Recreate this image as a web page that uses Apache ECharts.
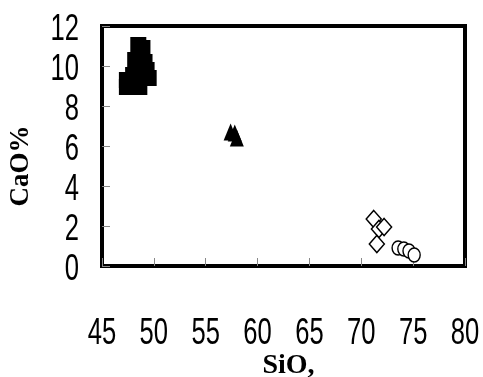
<!DOCTYPE html>
<html><head><meta charset="utf-8">
<script src="https://cdn.jsdelivr.net/npm/echarts@6/dist/echarts.min.js"></script>
<style>html,body{margin:0;padding:0;background:#fff}#c{width:483px;height:377px}</style>
</head><body><div id="c"></div>
<script>
var xTicks = [45, 50, 55, 60, 65, 70, 75, 80];
var yTicks = [0, 2, 4, 6, 8, 10, 12];
var squares = [[48.5, 11.05], [48.9, 10.9], [48.2, 10.3], [49.1, 10.2], [49.3, 9.8], [48.0, 9.55], [49.5, 9.4], [47.4, 9.3], [47.4, 8.95], [48.6, 8.95]];
var triangles = [[57.4, 6.7], [57.8, 6.65], [58.0, 6.4]];
var diamonds = [[71.2, 2.35], [71.7, 1.85], [72.2, 1.95], [71.5, 1.1]];
var circles = [[73.55, 0.9], [74.1, 0.85], [74.6, 0.75], [75.1, 0.55]];

var chart = echarts.init(document.getElementById('c'));
var numFont = '"Liberation Sans",Arial,sans-serif';
var serif = '"Liberation Serif","DejaVu Serif",serif';
chart.setOption({
  animation: false,
  grid: {left: 102, right: 18, top: 26, bottom: 111, show: true, borderColor: '#000', borderWidth: 4, backgroundColor: '#fff', outerBoundsMode: 'none', containLabel: false},
  xAxis: {
    type: 'value', min: 45, max: 80, interval: 5,
    name: 'SiO,', nameLocation: 'middle', nameGap: 86,
    nameTextStyle: {fontFamily: serif, fontWeight: 'bold', fontSize: 28, color: '#000', padding: [0, 0, 0, 10]},
    axisLine: {show: true, lineStyle: {color: '#000', width: 4}},
    axisTick: {show: true, inside: true, length: 8, lineStyle: {color: '#888', width: 1}},
    splitLine: {show: false},
    axisLabel: {show: false}
  },
  yAxis: {
    type: 'value', min: 0, max: 12, interval: 2,
    name: 'CaO%', nameLocation: 'middle', nameGap: 67,
    nameTextStyle: {fontFamily: serif, fontWeight: 'bold', fontSize: 27, color: '#000', padding: [0, 40, 0, 0]},
    axisLine: {show: true, lineStyle: {color: '#000', width: 4}},
    axisTick: {show: true, inside: true, length: 8, lineStyle: {color: '#888', width: 1}},
    splitLine: {show: false},
    axisLabel: {show: false}
  },
  series: [
    {type: 'scatter', data: squares, symbol: 'rect', symbolSize: 16, itemStyle: {color: '#000', opacity: 1}},
    {type: 'scatter', data: triangles, symbol: 'triangle', symbolSize: [14, 17], itemStyle: {color: '#000', opacity: 1}},
    {type: 'scatter', data: diamonds, symbol: 'diamond', symbolSize: [15, 17], itemStyle: {color: '#fff', borderColor: '#000', borderWidth: 1.5, opacity: 1}},
    {type: 'scatter', data: circles, symbol: 'circle', symbolSize: [12, 14], itemStyle: {color: '#fff', borderColor: '#000', borderWidth: 1.5, opacity: 1}}
  ]
});

// Tick labels: narrow, tall digits, positioned through the axis scales
var labels = [];
var sx = 0.8, sy = 1.18, fs = 32;
xTicks.forEach(function (v) {
  var p = chart.convertToPixel({xAxisIndex: 0}, v);
  labels.push({type: 'text', x: p, y: 315, scaleX: sx, scaleY: sy,
    style: {text: String(v), x: 0, y: 0, align: 'center', verticalAlign: 'top', fontFamily: numFont, fontSize: fs, fill: '#000'}});
});
yTicks.forEach(function (v) {
  var p = chart.convertToPixel({yAxisIndex: 0}, v);
  labels.push({type: 'text', x: 79, y: p + 4, scaleX: sx, scaleY: sy,
    style: {text: String(v), x: 0, y: 0, align: 'right', verticalAlign: 'middle', fontFamily: numFont, fontSize: fs, fill: '#000'}});
});
chart.setOption({graphic: labels});
</script></body></html>
